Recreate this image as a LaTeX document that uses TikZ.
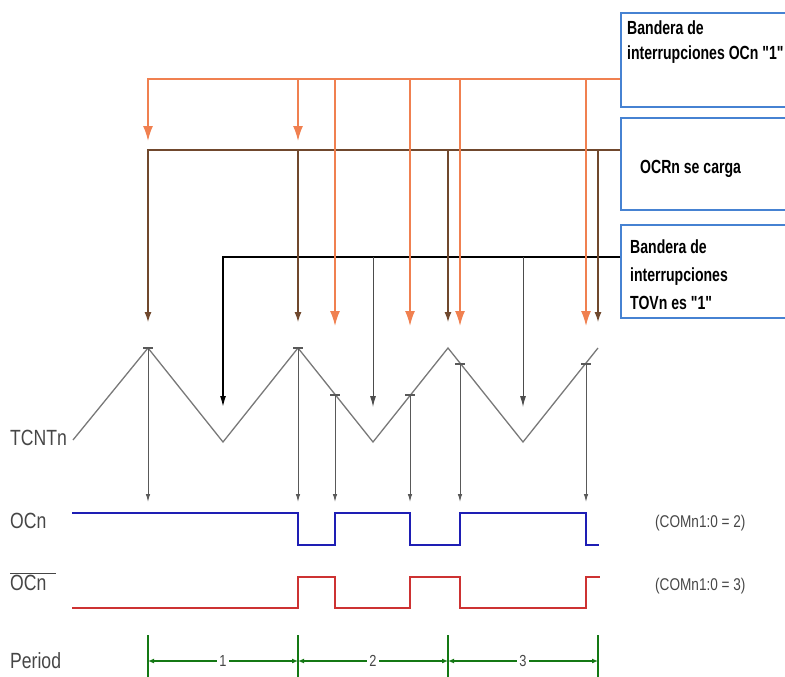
\documentclass[tikz,border=0pt]{standalone}
\usepackage{fontspec}
\setmainfont{Liberation Sans}[FakeStretch=0.8]
\newfontfamily\boxfont{Liberation Sans}[FakeStretch=0.74, BoldFeatures={FakeStretch=0.74}]
\usetikzlibrary{arrows.meta}

\definecolor{flagorange}{RGB}{240,128,80}
\definecolor{loadbrown}{RGB}{112,72,45}
\definecolor{boxblue}{RGB}{70,130,210}
\definecolor{ocblue}{RGB}{30,30,180}
\definecolor{ocred}{RGB}{205,50,50}
\definecolor{periodgreen}{RGB}{20,120,20}
\definecolor{labelgray}{RGB}{70,70,70}
\definecolor{wavegray}{RGB}{120,120,120}

\begin{document}
\begin{tikzpicture}[x=1pt, y=-1pt,
	flagbox/.style={draw=boxblue, line width=1.2pt, minimum width=180pt, inner sep=0pt},
	boxtext/.style={anchor=base west, inner sep=0pt, font=\boxfont\bfseries\fontsize{19}{22}\selectfont},
	sidelabel/.style={anchor=base west, inner sep=0pt, text=labelgray, font=\fontsize{22}{24}\selectfont},
	comlabel/.style={anchor=base west, inner sep=0pt, text=labelgray, font=\fontsize{17}{19}\selectfont},
	flagarrow/.style={draw=flagorange, line width=1.6pt, -{Latex[length=15pt,width=10pt]}},
	loadarrow/.style={draw=loadbrown, line width=1.3pt, -{Latex[length=10pt,width=7pt]}},
	ovfarrow/.style={draw=black, line width=1.4pt, -{Latex[length=11pt,width=6pt]}},
	ovfthin/.style={draw=gray!60!black, line width=1pt, -{Latex[length=11pt,width=6pt]}},
	wave/.style={draw=wavegray, line width=1.3pt},
	tickmark/.style={draw=gray!70!black, line width=1.2pt},
	sample/.style={draw=gray!70!black, line width=1pt, -{Latex[length=8pt,width=4.5pt]}},
	ocsignal/.style={draw=ocblue, line width=1.7pt},
	ocbarsignal/.style={draw=ocred, line width=1.7pt},
	periodtick/.style={draw=periodgreen, line width=1.3pt},
	periodarrow/.style={draw=periodgreen, line width=1.2pt, {Latex[length=6pt,width=5pt]}-{Latex[length=6pt,width=5pt]}},
	periodnum/.style={fill=white, inner sep=2pt, text=labelgray, font=\fontsize{16}{16}\selectfont}]

	\useasboundingbox (0,0) rectangle (785,677);
	\clip (0,0) rectangle (785,677);

	\node[flagbox, minimum height=94pt] (ocfbox) at (711,60) {};
	\node[flagbox, minimum height=92pt] (loadbox) at (711,164) {};
	\node[flagbox, minimum height=93pt] (ovfbox) at (711,271.5) {};

	\node[boxtext] (ocftext1) at (627,35) {Bandera de};
	\node[boxtext] (ocftext2) at (627,60) {interrupciones OCn "1"};
	\node[boxtext] (loadtext) at (640,173) {OCRn se carga};
	\node[boxtext] (ovftext1) at (630,253) {Bandera de};
	\node[boxtext] (ovftext2) at (630,281) {interrupciones};
	\node[boxtext] (ovftext3) at (630,309) {TOVn es "1"};

	\coordinate (p0) at (73,440);
	\coordinate (p1) at (148,348);
	\coordinate (p2) at (223,442);
	\coordinate (p3) at (298,348);
	\coordinate (p4) at (373,442);
	\coordinate (p5) at (448,348);
	\coordinate (p6) at (523,442);
	\coordinate (p7) at (598,348);

	\coordinate (c1) at (335,395);
	\coordinate (c2) at (410,395);
	\coordinate (c3) at (460,364);
	\coordinate (c4) at (586,364);

	\coordinate (otop) at (0,79);
	\coordinate (oshort) at (0,141);
	\coordinate (olong) at (0,326);
	\coordinate (ltop) at (0,150);
	\coordinate (lend) at (0,322);
	\coordinate (btop) at (0,257);
	\coordinate (bend) at (0,407);
	\coordinate (slow) at (0,502);
	\coordinate (ptop) at (0,635);
	\coordinate (pbot) at (0,677);

	\coordinate (t1) at (148,661);
	\coordinate (t2) at (298,661);
	\coordinate (t3) at (448,661);
	\coordinate (t4) at (598,661);

	\draw[ovfarrow] (ovfbox.west |- btop) -| (p2 |- bend);
	\draw[ovfthin] (p4 |- btop) -- (p4 |- bend);
	\draw[ovfthin] (p6 |- btop) -- (p6 |- bend);

	\draw[loadarrow] (loadbox.west |- ltop) -| (p1 |- lend);
	\draw[loadarrow] (p3 |- ltop) -- (p3 |- lend);
	\draw[loadarrow] (p5 |- ltop) -- (p5 |- lend);
	\draw[loadarrow] (p7 |- ltop) -- (p7 |- lend);

	\draw[flagarrow] (ocfbox.west |- otop) -| (p1 |- oshort);
	\draw[flagarrow] (p3 |- otop) -- (p3 |- oshort);
	\draw[flagarrow] (c1 |- otop) -- (c1 |- olong);
	\draw[flagarrow] (c2 |- otop) -- (c2 |- olong);
	\draw[flagarrow] (c3 |- otop) -- (c3 |- olong);
	\draw[flagarrow] (c4 |- otop) -- (c4 |- olong);

	\draw[wave] (p0) -- (p1) -- (p2) -- (p3) -- (p4) -- (p5) -- (p6) -- (p7);

	\draw[tickmark] ([xshift=-5pt]p1) -- ([xshift=5pt]p1);
	\draw[tickmark] ([xshift=-5pt]p3) -- ([xshift=5pt]p3);
	\draw[tickmark] ([xshift=-5pt]c1) -- ([xshift=5pt]c1);
	\draw[tickmark] ([xshift=-5pt]c2) -- ([xshift=5pt]c2);
	\draw[tickmark] ([xshift=-5pt]c3) -- ([xshift=5pt]c3);
	\draw[tickmark] ([xshift=-5pt]c4) -- ([xshift=5pt]c4);

	\draw[sample] (p1) -- (p1 |- slow);
	\draw[sample] (p3) -- (p3 |- slow);
	\draw[sample] (c1) -- (c1 |- slow);
	\draw[sample] (c2) -- (c2 |- slow);
	\draw[sample] (c3) -- (c3 |- slow);
	\draw[sample] (c4) -- (c4 |- slow);

	\draw[ocsignal] (72,513) -- (298,513) -- (298,545) -- (335,545) -- (335,513) -- (410,513) -- (410,545) -- (460,545) -- (460,513) -- (586,513) -- (586,545) -- (599,545);
	\draw[ocbarsignal] (72,608) -- (298,608) -- (298,577) -- (335,577) -- (335,608) -- (410,608) -- (410,577) -- (460,577) -- (460,608) -- (586,608) -- (586,577) -- (600,577);

	\draw[periodtick] (t1 |- ptop) -- (t1 |- pbot);
	\draw[periodtick] (t2 |- ptop) -- (t2 |- pbot);
	\draw[periodtick] (t3 |- ptop) -- (t3 |- pbot);
	\draw[periodtick] (t4 |- ptop) -- (t4 |- pbot);

	\draw[periodarrow] (t1) -- node[periodnum] {1} (t2);
	\draw[periodarrow] (t2) -- node[periodnum] {2} (t3);
	\draw[periodarrow] (t3) -- node[periodnum] {3} (t4);

	\node[sidelabel] (tcnt) at (10,445) {TCNTn};
	\node[sidelabel] (oc) at (10,528) {OCn};
	\node[sidelabel] (ocbar) at (10,590) {$\overline{\mbox{OCn\hspace{10pt}}}$};
	\node[sidelabel] (period) at (10,668) {Period};
	\node[comlabel] (com2) at (655,527) {(COMn1:0 = 2)};
	\node[comlabel] (com3) at (655,590) {(COMn1:0 = 3)};

\end{tikzpicture}
\end{document}
